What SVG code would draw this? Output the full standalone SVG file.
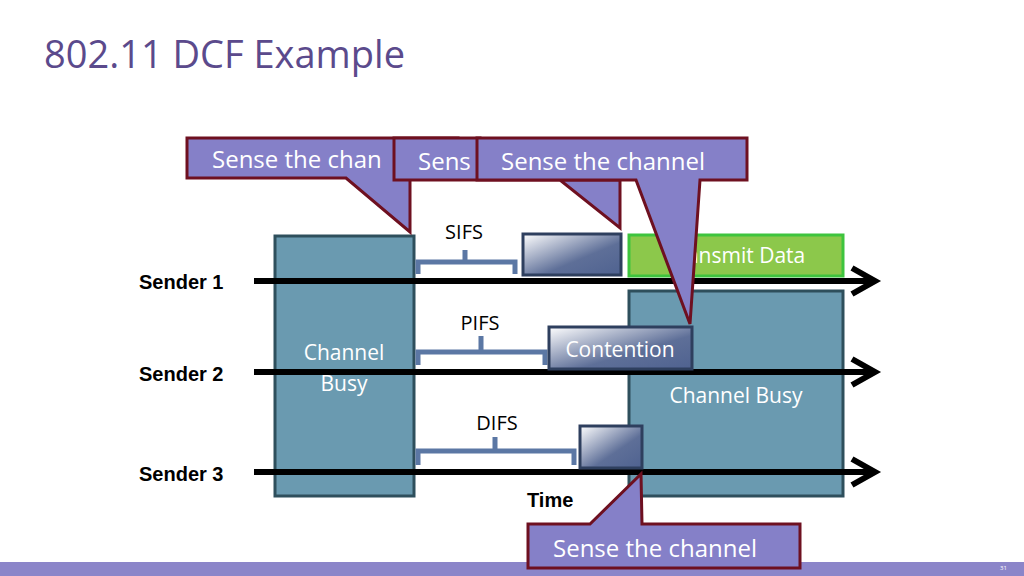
<svg xmlns="http://www.w3.org/2000/svg" width="1024" height="576" viewBox="0 0 1024 576">
<defs>
<style>
text{font-family:"Open Sans","Noto Sans",sans-serif}
.busy{fill:#6a9ab0;stroke:#2e4f5c;stroke-width:3}
.blk{stroke:#000;stroke-width:6;fill:none}
.br{fill:none;stroke:#5b77a4;stroke-width:5}
.co{fill:#8580c8;stroke:#6e1020;stroke-width:3;stroke-linejoin:miter}
.ct{fill:#fff;font-size:24px}
.lb{font-size:20px;fill:#000}
.sd{font-size:20px;font-weight:bold;font-family:"Liberation Sans",Arial,sans-serif}
</style>
<linearGradient id="g" x1="0" y1="0" x2="1" y2="1">
<stop offset="0" stop-color="#ffffff"/><stop offset="0.6" stop-color="#5e6f98"/><stop offset="1" stop-color="#4f6290"/>
</linearGradient>
</defs>
<rect width="1024" height="576" fill="#fff"/>
<text x="44" y="68" font-size="38" fill="#5b4a8c" style="font-family:'Open Sans',sans-serif">802.11 DCF Example</text>
<rect x="0" y="562" width="1024" height="14" fill="#8b85c9"/>
<text x="1000" y="570" font-size="6" fill="#fff">31</text>

<g id="busy1"><rect class="busy" x="275" y="236" width="139" height="260"/><text x="344" y="360" text-anchor="middle" fill="#fff" font-size="21">Channel</text><text x="344" y="391" text-anchor="middle" fill="#fff" font-size="21">Busy</text></g>
<g id="busy2"><rect class="busy" x="629" y="291" width="214" height="205"/><text x="736" y="403" text-anchor="middle" fill="#fff" font-size="21">Channel Busy</text></g>
<g id="tx"><rect x="629" y="235" width="214" height="41" fill="#8cc84b" stroke="#3ec43e" stroke-width="3"/><text x="736" y="263" text-anchor="middle" fill="#fff" font-size="21">Transmit Data</text></g>

<g id="connectors">
<line class="blk" x1="254" y1="281" x2="870" y2="281"/><polyline class="blk" points="852,268 875,281 852,294"/>
<line class="blk" x1="254" y1="372" x2="870" y2="372"/><polyline class="blk" points="852,359 875,372 852,385"/>
<line class="blk" x1="254" y1="472" x2="870" y2="472"/><polyline class="blk" points="852,459 875,472 852,485"/>
<path class="br" d="M418,274 V262 H465 V250 M465,262 H515 V274"/>
<path class="br" d="M418,365 V352 H481 V336 M481,352 H545 V365"/>
<path class="br" d="M418,465 V451 H495 V437 M495,451 H574 V465"/>
</g>
<text class="lb" x="464" y="239" text-anchor="middle">SIFS</text>
<text class="lb" x="480" y="330" text-anchor="middle">PIFS</text>
<text class="lb" x="497" y="430" text-anchor="middle">DIFS</text>
<text class="sd" x="139" y="289">Sender 1</text>
<text class="sd" x="139" y="381">Sender 2</text>
<text class="sd" x="139" y="481">Sender 3</text>
<text class="sd" x="527" y="507">Time</text>

<g id="bo1"><rect x="523" y="234" width="98" height="41" fill="url(#g)" stroke="#2e3f5e" stroke-width="3"/></g>
<g id="cont"><rect x="549" y="327" width="143" height="42" fill="url(#g)" stroke="#2e3f5e" stroke-width="3"/><text x="620" y="357" text-anchor="middle" fill="#fff" font-size="21">Contention</text></g>
<g id="bo3"><rect x="580" y="426" width="62" height="42" fill="url(#g)" stroke="#2e3f5e" stroke-width="3"/></g>

<g id="call1"><path class="co" d="M187,138 H458 V178 H410 V232 L346,178 H187 Z"/><text class="ct" x="212" y="168">Sense the chan</text></g>
<g id="call2"><path class="co" d="M394,138 H480 V180 H620 V228 L560,180 H394 Z"/><text class="ct" x="418" y="170">Sens</text></g>
<g id="call3"><path class="co" d="M477,138 H747 V180 H700 L690,324 L636,180 H477 Z"/><text class="ct" x="501" y="170">Sense the channel</text></g>
<g id="call4"><path class="co" d="M528,524 H590 L641,474 L642,524 H800 V568 H528 Z"/><text class="ct" x="553" y="557">Sense the channel</text></g>
</svg>
